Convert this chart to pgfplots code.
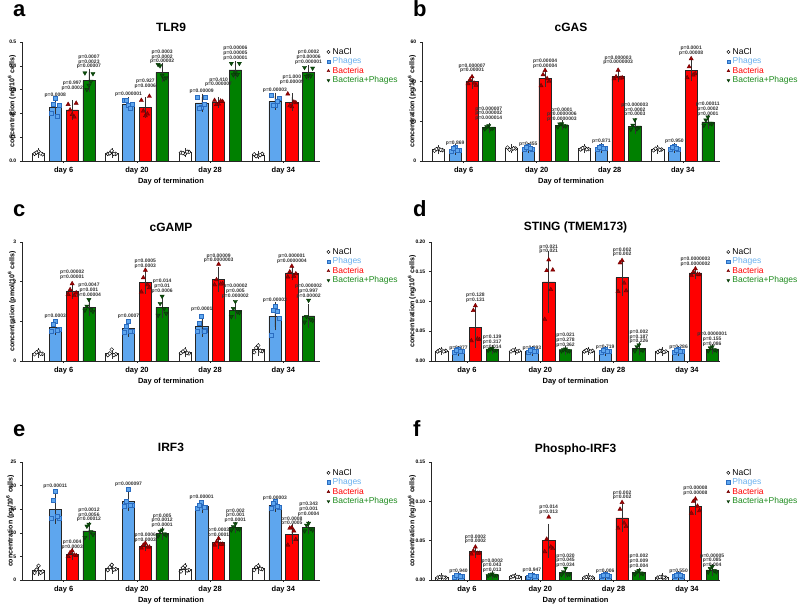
\documentclass[border=0pt]{standalone}
\usepackage{pgfplots}
\pgfplotsset{compat=1.18}
\usepackage{pgfplotstable}
\usepackage{fontspec}
\setmainfont{Liberation Sans}

\definecolor{phbar}{HTML}{5EA6EE}
\definecolor{phmk}{HTML}{2A6CC0}
\definecolor{bcbar}{HTML}{FF0000}
\definecolor{bcmk}{HTML}{9E0000}
\definecolor{bpbar}{HTML}{008000}
\definecolor{bpmk}{HTML}{0B4F0B}
\definecolor{phtxt}{HTML}{6AB0EE}
\definecolor{bptxt}{HTML}{1E8B1E}
\definecolor{errc}{HTML}{333333}

\tikzset{
 nacl/.style={mark=*, mark size=1.9pt, mark options={fill=white, draw=black, line width=0.45pt}},
 phm/.style={mark=square*, mark size=2.0pt, mark options={fill=phbar, draw=phmk, line width=0.6pt}},
 bcm/.style={mark=triangle*, mark size=2.4pt, mark options={fill=bcmk, draw=bcmk!70!black, line width=0.4pt}},
 bpm/.style={mark=triangle*, mark size=2.4pt, mark options={rotate=180, fill=bpmk, draw=bpmk!70!black, line width=0.4pt}},
 pv/.style={anchor=south, align=center, inner sep=0pt, font=\fontsize{5}{4.7}\selectfont\bfseries, text=black!80},
}

\pgfplotsset{
 panel/.style={
   scale only axis, anchor=south west,
   axis lines*=left,
   axis line style={-, line width=0.6pt, black!85},
   every outer x axis line/.append style={-},
   every outer y axis line/.append style={-},
   ymin=0, clip=false,
   xtick={0,1,2,3}, xticklabels={day 6, day 20, day 28, day 34},
   x tick label style={font=\fontsize{7.5}{8}\selectfont\bfseries},
   y tick label style={font=\fontsize{5}{6}\selectfont\bfseries},
   /pgf/number format/assume math mode=true,
   tick align=outside, major tick length=2.2pt,
   tick style={black!85, line width=0.5pt},
   xlabel={Day of termination},
   xlabel style={font=\fontsize{7.5}{8}\selectfont\bfseries, at={(axis description cs:0.5,0)}, anchor=center, yshift=-21pt},
   ylabel style={font=\fontsize{7}{8}\selectfont\bfseries, anchor=center},
   title style={font=\fontsize{12}{13}\selectfont\bfseries, at={(axis description cs:0.5,1)}, anchor=center, yshift=9pt},
   legend style={at={(1.022,0.958)}, anchor=north west, draw=none, fill=none, inner sep=0pt,
     font=\fontsize{8.5}{9}\selectfont, row sep=0pt,
     nodes={inner sep=1pt, text height=6pt, text depth=1.5pt}},
   legend cell align=left,
   legend image code/.code={\path (-1.5pt,0pt) (3pt,0pt); \draw[#1, mark size=1.6pt] plot coordinates {(0pt,0pt)};},
   legend entries={NaCl,{\textcolor{phtxt}{Phages}},{\textcolor{bcbar}{Bacteria}},{\textcolor{bptxt}{Bacteria+Phages}}},
 },
}

\newcommand\onebar[5]{%
 \addplot[ybar, bar width=0.168, bar shift=0pt, fill=#5, draw=black!85, line width=0.5pt, forget plot,
   error bars/.cd, y dir=both, y explicit,
   error bar style={errc, line width=0.5pt},
   error mark options={errc, line width=0.5pt, mark size=3.5pt}]
   table[x expr=\thisrow{g}+(#4), y=#2, y error=#3]{#1};
}
\newcommand\allbars[1]{%
 \onebar{#1}{nm}{ns}{-0.344}{white}
 \onebar{#1}{pm}{ps}{-0.115}{phbar}
 \onebar{#1}{bm}{bs}{0.115}{bcbar}
 \onebar{#1}{cm}{cs}{0.344}{bpbar}
}
\newcommand\drawpts[4]{%
 \addplot[only marks,#4] table[x expr=\thisrow{g}+(#3)-0.055, y=#21]{#1};
 \addplot[only marks,#4,forget plot] table[x expr=\thisrow{g}+(#3), y=#22]{#1};
 \addplot[only marks,#4,forget plot] table[x expr=\thisrow{g}+(#3)+0.055, y=#23]{#1};
 \addplot[only marks,#4,forget plot] table[x expr=\thisrow{g}+(#3)-0.028, y=#24]{#1};
 \addplot[only marks,#4,forget plot] table[x expr=\thisrow{g}+(#3)+0.028, y=#25]{#1};
}
\newcommand\allpts[1]{%
 \drawpts{#1}{n}{-0.344}{nacl}
 \drawpts{#1}{p}{-0.115}{phm}
 \drawpts{#1}{b}{0.115}{bcm}
 \drawpts{#1}{c}{0.344}{bpm}
}
\newcommand\pv[3]{\node[pv] at (axis cs:#1,#2) {#3};}

% ---------- a: TLR9
\pgfplotstableread{
g nm ns pm ps bm bs cm cs
0 0.033 0.005 0.225 0.027 0.215 0.026 0.338 0.035
1 0.033 0.005 0.240 0.013 0.225 0.028 0.372 0.027
2 0.035 0.004 0.244 0.024 0.247 0.008 0.383 0.022
3 0.025 0.004 0.251 0.022 0.247 0.022 0.371 0.017
}\sumA
\pgfplotstableread{
g n1 n2 n3 n4 n5 p1 p2 p3 p4 p5 b1 b2 b3 b4 b5 c1 c2 c3 c4 c5
0 0.030 0.040 0.028 0.035 0.032 0.200 0.265 0.232 0.240 0.188 0.238 0.195 0.243 0.215 0.185 0.370 0.318 0.367 0.300 0.335
1 0.030 0.043 0.030 0.032 0.030 0.255 0.232 0.238 0.255 0.220 0.255 0.190 0.272 0.210 0.198 0.405 0.360 0.350 0.400 0.345
2 0.035 0.030 0.038 0.033 0.039 0.268 0.225 0.268 0.220 0.239 0.255 0.240 0.250 0.238 0.252 0.410 0.370 0.410 0.362 0.363
3 0.028 0.022 0.030 0.020 0.025 0.276 0.232 0.262 0.236 0.249 0.282 0.228 0.245 0.232 0.248 0.393 0.360 0.390 0.355 0.357
}\ptsA
% ---------- b: cGAS
\pgfplotstableread{
g nm ns pm ps bm bs cm cs
0 5.7 0.5 5.8 0.8 40.0 1.8 16.8 0.8
1 6.2 0.5 6.5 0.8 41.8 2.6 18.0 0.8
2 6.2 0.5 6.5 0.8 42.7 1.3 17.6 2.2
3 5.9 0.5 6.5 0.8 45.7 3.8 19.7 1.9
}\sumB
\pgfplotstableread{
g n1 n2 n3 n4 n5 p1 p2 p3 p4 p5 b1 b2 b3 b4 b5 c1 c2 c3 c4 c5
0 5.2 6.2 5.5 6.0 5.6 5.0 6.8 5.6 6.2 5.4 39.0 42.5 38.2 41.0 39.3 16.2 17.8 16.5 17.2 16.3
1 6.8 5.8 6.3 5.7 6.4 6.0 7.4 5.8 7.0 6.3 38.0 45.7 40.2 43.5 41.6 17.2 18.8 17.6 18.6 17.8
2 5.8 6.8 6.0 6.5 5.9 5.8 7.2 6.2 7.0 6.3 41.5 45.8 42.0 42.5 41.7 16.0 20.8 17.0 18.0 16.2
3 5.4 6.5 5.8 6.2 5.6 5.8 7.4 6.0 7.0 6.3 42.0 51.6 44.0 47.5 43.4 18.0 22.2 18.7 20.6 19.0
}\ptsB
% ---------- c: cGAMP
\pgfplotstableread{
g nm ns pm ps bm bs cm cs
0 0.20 0.04 0.85 0.11 1.76 0.10 1.35 0.12
1 0.19 0.05 0.82 0.12 1.98 0.20 1.35 0.18
2 0.22 0.04 0.87 0.17 2.06 0.22 1.28 0.13
3 0.29 0.07 1.13 0.27 2.22 0.09 1.14 0.21
}\sumC
\pgfplotstableread{
g n1 n2 n3 n4 n5 p1 p2 p3 p4 p5 b1 b2 b3 b4 b5 c1 c2 c3 c4 c5
0 0.17 0.25 0.18 0.22 0.18 0.75 1.00 0.80 0.93 0.77 1.68 1.95 1.72 1.80 1.65 1.28 1.55 1.25 1.38 1.29
1 0.15 0.29 0.17 0.19 0.15 0.72 1.00 0.75 0.88 0.75 1.74 2.29 1.85 2.10 1.92 1.15 1.63 1.20 1.45 1.32
2 0.20 0.27 0.19 0.24 0.20 0.76 1.12 0.78 0.95 0.74 1.92 2.44 1.95 2.05 1.94 1.12 1.50 1.22 1.32 1.24
3 0.22 0.39 0.25 0.33 0.26 0.65 1.38 1.07 1.29 1.26 2.12 2.39 2.20 2.25 2.14 0.98 1.53 1.02 1.12 1.05
}\ptsC
% ---------- d: STING
\pgfplotstableread{
g nm ns pm ps bm bs cm cs
0 0.017 0.001 0.017 0.002 0.057 0.029 0.019 0.002
1 0.017 0.001 0.017 0.002 0.133 0.046 0.018 0.002
2 0.017 0.001 0.017 0.002 0.140 0.025 0.021 0.005
3 0.016 0.001 0.017 0.002 0.148 0.004 0.020 0.003
}\sumD
\pgfplotstableread{
g n1 n2 n3 n4 n5 p1 p2 p3 p4 p5 b1 b2 b3 b4 b5 c1 c2 c3 c4 c5
0 0.016 0.018 0.017 0.018 0.016 0.015 0.019 0.016 0.018 0.017 0.034 0.093 0.036 0.085 0.037 0.018 0.021 0.018 0.020 0.018
1 0.016 0.018 0.017 0.018 0.016 0.015 0.019 0.016 0.018 0.017 0.070 0.170 0.153 0.152 0.120 0.017 0.020 0.017 0.019 0.017
2 0.016 0.018 0.017 0.018 0.016 0.015 0.019 0.016 0.018 0.017 0.117 0.169 0.118 0.165 0.131 0.017 0.027 0.018 0.024 0.019
3 0.015 0.017 0.016 0.017 0.015 0.015 0.019 0.016 0.018 0.017 0.144 0.155 0.145 0.150 0.146 0.017 0.024 0.018 0.022 0.019
}\ptsD
% ---------- e: IRF3
\pgfplotstableread{
g nm ns pm ps bm bs cm cs
0 2.0 0.5 15.0 2.4 5.5 0.5 10.4 1.2
1 2.5 0.4 16.6 1.2 7.2 0.4 9.9 0.6
2 2.3 0.5 15.6 0.6 7.9 0.6 11.1 0.5
3 2.5 0.4 15.8 0.6 9.7 1.4 11.1 0.7
}\sumE
\pgfplotstableread{
g n1 n2 n3 n4 n5 p1 p2 p3 p4 p5 b1 b2 b3 b4 b5 c1 c2 c3 c4 c5
0 1.5 3.0 1.8 2.2 1.5 13.0 18.7 13.0 16.9 13.4 5.0 6.2 5.2 5.8 5.3 9.0 11.8 9.6 11.4 10.2
1 2.1 3.2 2.3 2.7 2.2 15.6 19.2 15.8 16.6 15.8 6.8 7.8 7.0 7.4 7.0 9.3 10.6 9.5 10.3 9.8
2 1.8 3.0 2.1 2.6 2.0 15.1 16.5 15.3 15.8 15.3 7.4 8.8 7.6 8.1 7.6 10.6 11.9 10.8 11.3 10.9
3 2.1 3.0 2.3 2.7 2.4 15.2 16.6 15.4 16.2 15.6 7.4 11.1 8.6 11.0 10.4 10.4 12.0 10.6 11.6 10.9
}\ptsE
% ---------- f: Phospho-IRF3
\pgfplotstableread{
g nm ns pm ps bm bs cm cs
0 0.0034 0.0005 0.0050 0.0010 0.036 0.003 0.0064 0.0010
1 0.0042 0.0006 0.0050 0.0010 0.050 0.017 0.0094 0.0030
2 0.0034 0.0005 0.0055 0.0012 0.079 0.013 0.0094 0.0020
3 0.0034 0.0005 0.0055 0.0012 0.094 0.007 0.0128 0.0030
}\sumF
\pgfplotstableread{
g n1 n2 n3 n4 n5 p1 p2 p3 p4 p5 b1 b2 b3 b4 b5 c1 c2 c3 c4 c5
0 0.0030 0.0040 0.0030 0.0038 0.0032 0.0040 0.0062 0.0042 0.0058 0.0048 0.033 0.042 0.034 0.037 0.034 0.0055 0.0076 0.0058 0.0070 0.0061
1 0.0036 0.0050 0.0038 0.0046 0.0040 0.0040 0.0062 0.0042 0.0058 0.0048 0.036 0.080 0.040 0.052 0.042 0.0070 0.0150 0.0075 0.0105 0.0070
2 0.0030 0.0040 0.0030 0.0038 0.0032 0.0042 0.0068 0.0046 0.0064 0.0055 0.066 0.0986 0.068 0.090 0.0724 0.0075 0.0122 0.0080 0.0105 0.0088
3 0.0030 0.0040 0.0030 0.0038 0.0032 0.0042 0.0068 0.0046 0.0064 0.0055 0.085 0.103 0.088 0.100 0.094 0.0100 0.0170 0.0105 0.0145 0.0120
}\ptsF

\begin{document}
\begin{tikzpicture}
\path[use as bounding box] (0pt,0pt) rectangle (800pt,610pt);

% ===== a
\begin{axis}[panel, at={(22pt,449pt)}, width=298pt, height=119pt, xmin=-0.57, xmax=3.5,
  ymax=0.5, ytick={0,0.1,0.2,0.3,0.4,0.5},
  yticklabel style={/pgf/number format/.cd, fixed, fixed zerofill, precision=1},
  title={TLR9}, ylabel={concentration (ng/10\textsuperscript{6} cells)},
  ylabel style={at={(axis description cs:-0.034,0.5)}}]
\allbars{\sumA}
\allpts{\ptsA}
\pv{-0.115}{0.2675}{p=0.0008}
\pv{0.115}{0.297}{p=0.997\\p=0.0002}
\pv{0.344}{0.3866}{p=0.0007\\p=0.0023\\p=0.00007}
\pv{0.885}{0.2717}{p=0.000001}
\pv{1.115}{0.304}{p=0.927\\p=0.0006}
\pv{1.344}{0.4076}{p=0.0003\\p=0.0002\\p=0.00002}
\pv{1.885}{0.283}{p=0.00009}
\pv{2.115}{0.311}{p=0.410\\p=0.000007}
\pv{2.344}{0.423}{p=0.00006\\p=0.00005\\p=0.00001}
\pv{2.885}{0.2885}{p=0.00003}
\pv{3.115}{0.3207}{p=1.000\\p=0.00009}
\pv{3.344}{0.405}{p=0.0002\\p=0.00006\\p=0.000001}
\end{axis}

% ===== b
\begin{axis}[panel, at={(422pt,449pt)}, width=298pt, height=119pt, xmin=-0.57, xmax=3.51,
  ymax=60, ytick={0,20,40,60},
  title={cGAS}, ylabel={concentration (pg/10\textsuperscript{6} cells)},
  ylabel style={at={(axis description cs:-0.034,0.5)}}]
\allbars{\sumB}
\allpts{\ptsB}
\pv{-0.115}{7.73}{p=0.869}
\pv{0.115}{44.4}{p=0.000007\\p=0.00001}
\pv{0.344}{20.3}{p=0.000007\\p=0.000002\\p=0.000014}
\pv{0.885}{7.4}{p=0.455}
\pv{1.115}{46.6}{p=0.00004\\p=0.00004}
\pv{1.344}{19.8}{p=0.0001\\p=0.0000006\\p=0.0000003}
\pv{1.885}{8.57}{p=0.871}
\pv{2.115}{48.4}{p=0.000003\\p=0.0000003}
\pv{2.344}{22.2}{p=0.000003\\p=0.0002\\p=0.0003}
\pv{2.885}{8.57}{p=0.950}
\pv{3.115}{53.3}{p=0.0001\\p=0.00008}
\pv{3.344}{22.5}{p=0.00011\\p=0.0002\\p=0.0001}
\end{axis}

% ===== c
\begin{axis}[panel, at={(22pt,249pt)}, width=298pt, height=119pt, xmin=-0.57, xmax=3.5,
  ymax=3, ytick={0,1,2,3},
  title={cGAMP}, ylabel={concentration (pmol/10\textsuperscript{6} cells)},
  ylabel style={at={(axis description cs:-0.034,0.5)}}]
\allbars{\sumC}
\allpts{\ptsC}
\pv{-0.115}{1.067}{p=0.0003}
\pv{0.115}{2.05}{p=0.00002\\p=0.00001}
\pv{0.344}{1.605}{p=0.0047\\p=0.001\\p=0.00004}
\pv{0.885}{1.059}{p=0.0007}
\pv{1.115}{2.33}{p=0.0005\\p=0.0003}
\pv{1.344}{1.70}{p=0.014\\p=0.01\\p=0.0006}
\pv{1.885}{1.235}{p=0.0001}
\pv{2.115}{2.47}{p=0.00009\\p=0.0000003}
\pv{2.344}{1.58}{p=0.00002\\p=0.005\\p=0.000002}
\pv{2.885}{1.46}{p=0.00003}
\pv{3.115}{2.45}{p=0.000001\\p=0.0000004}
\pv{3.344}{1.58}{p=0.000002\\p=0.997\\p=0.00002}
\end{axis}

% ===== d
\begin{axis}[panel, at={(431pt,249pt)}, width=289pt, height=119pt, xmin=-0.49, xmax=3.45,
  ymax=0.2, ytick={0,0.05,0.10,0.15,0.20},
  yticklabel style={/pgf/number format/.cd, fixed, fixed zerofill, precision=2},
  title={STING (TMEM173)}, ylabel={concentration (ng/10\textsuperscript{6} cells)},
  ylabel style={at={(axis description cs:-0.066,0.5)}}]
\allbars{\sumD}
\allpts{\ptsD}
\pv{-0.115}{0.018}{p=0.877}
\pv{0.115}{0.098}{p=0.128\\p=0.131}
\pv{0.344}{0.0197}{p=0.139\\p=0.317\\p=0.014}
\pv{0.885}{0.018}{p=0.993}
\pv{1.115}{0.1797}{p=0.021\\p=0.021}
\pv{1.344}{0.0225}{p=0.021\\p=0.278\\p=0.362}
\pv{1.885}{0.0197}{p=0.719}
\pv{2.115}{0.1746}{p=0.002\\p=0.002}
\pv{2.344}{0.0282}{p=0.002\\p=0.187\\p=0.226}
\pv{2.885}{0.0197}{p=0.286}
\pv{3.115}{0.1589}{p=0.0000003\\p=0.0000002}
\pv{3.344}{0.0248}{p=0.0000001\\p=0.155\\p=0.086}
\end{axis}

% ===== e
\begin{axis}[panel, at={(22pt,30pt)}, width=298pt, height=118pt, xmin=-0.57, xmax=3.5,
  ymax=25, ytick={0,5,10,15,20,25},
  title={IRF3}, ylabel={concentration (pg/10\textsuperscript{6} cells)},
  ylabel style={at={(axis description cs:-0.04,0.5)}},
  legend style={at={(1.022,0.95)}}]
\allbars{\sumE}
\allpts{\ptsE}
\pv{-0.115}{19.37}{p=0.00011}
\pv{0.115}{6.48}{p=0.004\\p=0.0003}
\pv{0.344}{12.25}{p=0.0012\\p=0.0056\\p=0.00012}
\pv{0.885}{19.7}{p=0.000097}
\pv{1.115}{7.89}{p=0.0006\\p=0.0003}
\pv{1.344}{11.06}{p=0.005\\p=0.0012\\p=0.0001}
\pv{1.885}{17.04}{p=0.00001}
\pv{2.115}{8.94}{p=0.0003\\p=0.0001}
\pv{2.344}{12.1}{p=0.002\\p=0.001\\p=0.0001}
\pv{2.885}{16.83}{p=0.00003}
\pv{3.115}{11.4}{p=0.0008\\p=0.0005}
\pv{3.344}{13.5}{p=0.343\\p=0.001\\p=0.0004}
\end{axis}

% ===== f
\begin{axis}[panel, at={(431pt,30pt)}, width=289pt, height=118pt, xmin=-0.49, xmax=3.45,
  ymax=0.15, ytick={0,0.05,0.10,0.15},
  yticklabel style={/pgf/number format/.cd, fixed, fixed zerofill, precision=2},
  title={Phospho-IRF3}, title style={yshift=-2pt}, ylabel={concentration (ng/10\textsuperscript{6} cells)},
  ylabel style={at={(axis description cs:-0.066,0.5)}},
  legend style={at={(1.022,0.95)}}]
\allbars{\sumF}
\allpts{\ptsF}
\pv{-0.115}{0.0081}{p=0.940}
\pv{0.115}{0.0455}{p=0.0002\\p=0.0002}
\pv{0.344}{0.0093}{p=0.0002\\p=0.043\\p=0.013}
\pv{0.885}{0.0093}{p=0.947}
\pv{1.115}{0.0829}{p=0.014\\p=0.013}
\pv{1.344}{0.0157}{p=0.020\\p=0.045\\p=0.034}
\pv{1.885}{0.0081}{p=0.006}
\pv{2.115}{0.1016}{p=0.002\\p=0.002}
\pv{2.344}{0.0149}{p=0.002\\p=0.009\\p=0.004}
\pv{2.885}{0.0081}{p=0.550}
\pv{3.115}{0.1071}{p=0.00008\\p=0.00008}
\pv{3.344}{0.0157}{p=0.00005\\p=0.085\\p=0.004}
\end{axis}

\begin{scope}[every node/.style={font=\fontsize{22}{24}\selectfont\bfseries, anchor=base west, inner sep=0pt}]
\node at (13pt,593pt) {a};
\node at (413pt,593pt) {b};
\node at (13pt,393pt) {c};
\node at (413pt,393pt) {d};
\node at (13pt,173pt) {e};
\node at (413pt,173pt) {f};
\end{scope}
\end{tikzpicture}
\end{document}
